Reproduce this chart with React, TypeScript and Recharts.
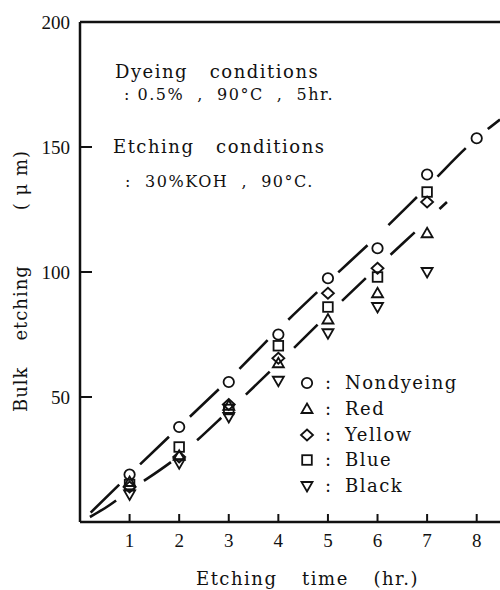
import { ComposedChart, Line, Scatter, XAxis, YAxis } from 'recharts';

// etching time (hr.)
const hoursAll = [1, 2, 3, 4, 5, 6, 7, 8];
const hoursDyed = [1, 2, 3, 4, 5, 6, 7];

// bulk etching (um)
const nondyeing = [19, 38, 56, 75, 97.5, 109.5, 139, 153.5];
const red = [16, 26.5, 46.5, 63.5, 81, 91.5, 115.5];
const yellow = [14, 26, 47, 65.5, 91.5, 101.5, 128];
const blue = [15, 30, 45, 70.5, 86, 98, 132];
const black = [11, 23.5, 42, 56.5, 75.5, 86, 100];

// the two hand drawn dashed curves
const upperX = [0.15, 1, 2, 3, 4, 5, 6, 7, 8, 8.47];
const upperY = [2.5, 19, 38, 57, 77, 96, 114.5, 134, 153.5, 161];
const lowerX = [0.2, 0.5, 1, 2, 3, 4, 5, 6, 7, 7.4];
const lowerY = [2, 5.5, 12.5, 26.5, 44.5, 63.5, 83, 102, 120.5, 128];

const xTicks = [1, 2, 3, 4, 5, 6, 7, 8];
const yTicks = [50, 100, 150, 200];

const toPoints = (xs: number[], ys: number[]) => xs.map((x, i) => ({ x, y: ys[i] }));

type Kind = 'circle' | 'up' | 'diamond' | 'square' | 'down';

const series: { name: string; kind: Kind; xs: number[]; ys: number[] }[] = [
  { name: 'Nondyeing', kind: 'circle', xs: hoursAll, ys: nondyeing },
  { name: 'Red', kind: 'up', xs: hoursDyed, ys: red },
  { name: 'Yellow', kind: 'diamond', xs: hoursDyed, ys: yellow },
  { name: 'Blue', kind: 'square', xs: hoursDyed, ys: blue },
  { name: 'Black', kind: 'down', xs: hoursDyed, ys: black },
];

const INK = '#111';

const Marker = ({ kind, cx, cy }: { kind: Kind; cx: number; cy: number }) => {
  const s = { fill: 'none', stroke: INK, strokeWidth: 1.8 };
  switch (kind) {
    case 'circle':
      return <circle cx={cx} cy={cy} r={5.2} {...s} />;
    case 'up':
      return <polygon points={`${cx},${cy - 5.5} ${cx + 5.5},${cy + 4} ${cx - 5.5},${cy + 4}`} {...s} />;
    case 'down':
      return <polygon points={`${cx},${cy + 5.5} ${cx + 5.5},${cy - 4} ${cx - 5.5},${cy - 4}`} {...s} />;
    case 'diamond':
      return <polygon points={`${cx},${cy - 5.5} ${cx + 6},${cy} ${cx},${cy + 5.5} ${cx - 6},${cy}`} {...s} />;
    default:
      return <rect x={cx - 4.8} y={cy - 4.8} width={9.6} height={9.6} {...s} />;
  }
};

const axisLine = { stroke: INK, strokeWidth: 2.5 };
const tickLine = { stroke: INK, strokeWidth: 2 };
const tickFont = { fill: INK, fontSize: 19, fontFamily: '"Liberation Serif", serif' };

const abs = (left: number, top: number, fontSize: number, extra = {}) => ({
  position: 'absolute' as const,
  left,
  top,
  fontSize,
  lineHeight: 1,
  whiteSpace: 'pre' as const,
  letterSpacing: 1.5,
  ...extra,
});

const legendRows = [383, 409, 435, 460, 486];

export default function App() {
  return (
    <div
      style={{
        position: 'relative',
        width: 500,
        height: 590,
        background: '#fff',
        color: INK,
        fontFamily: '"DejaVu Serif", serif',
        overflow: 'hidden',
      }}
    >
      <style>{'body{margin:0}'}</style>
      <ComposedChart width={500} height={590} margin={{ top: 0, right: 0, bottom: 20, left: 0 }}>
        <XAxis
          xAxisId="bottom"
          type="number"
          dataKey="x"
          domain={[0, 8.47]}
          allowDataOverflow
          ticks={xTicks}
          height={48}
          axisLine={axisLine}
          tickLine={tickLine}
          tickSize={-8}
          tickMargin={20}
          tick={tickFont}
        />
        <XAxis
          xAxisId="top"
          orientation="top"
          type="number"
          dataKey="x"
          domain={[0, 8.47]}
          allowDataOverflow
          ticks={xTicks}
          height={22}
          axisLine={axisLine}
          tickLine={tickLine}
          tickSize={-8}
          tick={false}
        />
        <YAxis
          yAxisId="left"
          type="number"
          domain={[0, 200]}
          ticks={yTicks}
          width={80}
          axisLine={axisLine}
          tickLine={tickLine}
          tickSize={-12}
          tickMargin={22}
          tick={tickFont}
        />
        <YAxis
          yAxisId="right"
          orientation="right"
          type="number"
          domain={[0, 200]}
          ticks={[50, 100, 150]}
          width={0}
          axisLine={axisLine}
          tickLine={tickLine}
          tickSize={-9}
          tick={false}
        />
        <Line
          xAxisId="bottom"
          yAxisId="left"
          data={toPoints(upperX, upperY)}
          dataKey="y"
          type="monotone"
          stroke={INK}
          strokeWidth={2.6}
          strokeDasharray="40 29"
          strokeDashoffset={-4.5}
          dot={false}
          isAnimationActive={false}
        />
        <Line
          xAxisId="bottom"
          yAxisId="left"
          data={toPoints(lowerX, lowerY)}
          dataKey="y"
          type="monotone"
          stroke={INK}
          strokeWidth={2.6}
          strokeDasharray="33 34"
          strokeDashoffset={2}
          dot={false}
          isAnimationActive={false}
        />
        {series.map((s) => (
          <Scatter
            key={s.name}
            name={s.name}
            xAxisId="bottom"
            yAxisId="left"
            data={toPoints(s.xs, s.ys)}
            dataKey="y"
            shape={(p: any) => <Marker kind={s.kind} cx={p.cx} cy={p.cy} />}
            isAnimationActive={false}
          />
        ))}
      </ComposedChart>

      <div style={abs(115, 63, 18)}>Dyeing   conditions</div>
      <div style={abs(124, 87, 16)}>: 0.5%  ,  90°C  ,  5hr.</div>
      <div style={abs(113, 138, 18)}>Etching   conditions</div>
      <div style={abs(125, 174, 16)}>:  30%KOH  ,  90°C.</div>

      {series.map((s, i) => (
        <div key={s.name}>
          <svg
            width={16}
            height={16}
            style={{ position: 'absolute', left: 299, top: legendRows[i] - 8 }}
          >
            <Marker kind={s.kind} cx={8} cy={8} />
          </svg>
          <div style={abs(325, legendRows[i] - 9, 18)}>:</div>
          <div style={abs(345, legendRows[i] - 9, 18)}>{s.name}</div>
        </div>
      ))}

      <div style={abs(196, 570, 18, { wordSpacing: 1 })}>Etching   time   (hr.)</div>
      <div
        style={abs(21, 281, 18, {
          transform: 'translate(-50%, -50%) rotate(-90deg)',
          display: 'flex',
          letterSpacing: 1,
        })}
      >
        <span>Bulk</span>
        <span style={{ marginLeft: 26 }}>etching</span>
        <span style={{ marginLeft: 55 }}>( μ m)</span>
      </div>
    </div>
  );
}
